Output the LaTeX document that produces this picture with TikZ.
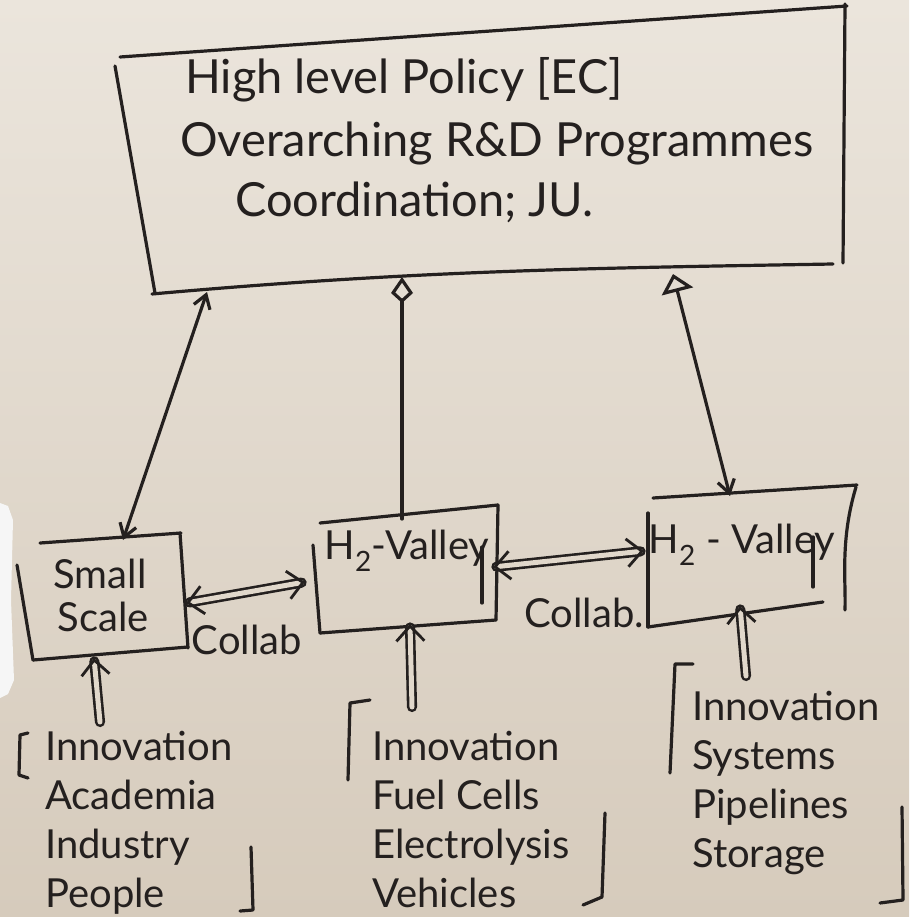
\documentclass[tikz,border=0pt]{standalone}
\usepackage{fontspec}
\setmainfont{Lato}
\usetikzlibrary{arrows.meta}
\definecolor{paper}{RGB}{225,216,203}
\definecolor{paperTop}{RGB}{235,229,220}
\definecolor{paperBot}{RGB}{214,203,188}
\definecolor{ink}{RGB}{36,32,31}
\definecolor{edgewhite}{RGB}{246,246,246}

\begin{document}
\begin{tikzpicture}[x=1pt,y=-1pt,
  pen/.style={draw=ink,line width=3.2pt,line cap=round,line join=round},
  hand/.style={text=ink,font=\fontsize{40}{49}\selectfont,inner sep=0pt},
  boxhand/.style={text=ink,font=\fontsize{40}{44}\selectfont,inner sep=0pt},
  bighand/.style={text=ink,font=\fontsize{47}{60}\selectfont,inner sep=0pt},
  listtext/.style={hand,align=left,anchor=north west},
  barb/.tip={Straight Barb[length=13pt,width=17pt]},
  kite/.tip={Kite[open,length=26pt,width=22pt,inset=10pt]},
  tri/.tip={Triangle[open,length=18pt,width=32pt]},
  twintip/.tip={Straight Barb[length=15pt,width=28pt,line width=2.8pt]},
  link/.style={pen},
  twin/.style={draw=ink,line width=2.6pt,double=paper,double distance=5pt,
               line cap=round}
]
\useasboundingbox (0,0) rectangle (909,917);

% paper
\shade[top color=paperTop,bottom color=paperBot] (0,0) rectangle (909,917);
\fill[edgewhite] (0,503) -- (8,506) -- (13,520) -- (11,600) -- (14,680) -- (8,694) -- (0,698) -- cycle;

% ---------- top box: policy level ----------
\coordinate (P1) at (120,57);
\coordinate (P2) at (847,6);
\coordinate (P3) at (843,263);
\coordinate (P4) at (152,294);
\draw[pen] (P1) -- (P2);
\draw[pen] (845,4) -- (P3);
\draw[pen] (833,264) .. controls (600,268) and (420,270) .. (P4);
\draw[pen] (115,66) -- (155,293);

\node[bighand,anchor=west] (pol1) at (185,80) {High level Policy [EC]};
\node[bighand,anchor=west] (pol2) at (180,143) {Overarching R\&D Programmes};
\node[bighand,anchor=west] (pol3) at (235,202) {Coordination; JU.};

\coordinate (polA) at (207,292);
\coordinate (polB) at (402,277);
\coordinate (polC) at (673,274);

% ---------- small scale box ----------
\draw[pen] (40,543) -- (181,533);
\draw[pen] (180,533) -- (188,648);
\draw[pen] (33,660) -- (188,647);
\draw[pen] (17,565) -- (33,660);
\node[boxhand,anchor=center] (small1) at (100,574) {Small};
\node[boxhand,anchor=center] (small2) at (103,617) {Scale};
\coordinate (smTop) at (123,540);
\coordinate (smRight) at (186,603);
\coordinate (smBottom) at (94,658);

% ---------- middle H2-Valley box ----------
\draw[pen] (320,523) -- (498,505);
\draw[pen] (498,505) -- (496,620);
\draw[pen] (320,633) -- (496,620);
\draw[pen] (313,545) -- (320,633);
\draw[pen] (482,547) -- (482,603);
\node[boxhand,anchor=center] (val1) at (407,551) {H\textsubscript{2}-Valley};
\coordinate (v1Top) at (402,519);
\coordinate (v1Left) at (305,582);
\coordinate (v1Right) at (493,567);
\coordinate (v1Bottom) at (410,624);

% ---------- right H2-Valley box ----------
\draw[pen] (653,498) -- (857,485);
\draw[pen] (856,487) .. controls (840,540) and (846,580) .. (845,610);
\draw[pen] (648,627) -- (823,602);
\draw[pen] (648,513) -- (648,627);
\draw[pen] (813,537) -- (813,587);
\node[boxhand,anchor=center] (val2) at (742,545) {H\textsubscript{2} - Valley};
\coordinate (v2Top) at (730,496);
\coordinate (v2Left) at (644,551);
\coordinate (v2Bottom) at (740,606);

% ---------- links to the policy level ----------
\draw[link,{barb}-{barb}] (polA) -- (smTop);
\draw[link,{kite}-] (polB) -- (v1Top);
\draw[link,{tri}-{barb}] (polC) -- (v2Top);

% ---------- collaboration links ----------
\draw[twin,{twintip}-{twintip}] (smRight) -- (v1Left);
\draw[twin,{twintip}-{twintip}] (v1Right) -- (v2Left);
\node[hand,anchor=center] (col1) at (247,640) {Collab};
\node[hand,anchor=center] (col2) at (584,613) {Collab.};

% ---------- innovation inputs ----------
\coordinate (in1) at (100,722);
\coordinate (in2) at (412,707);
\coordinate (in3) at (746,676);
\draw[twin,-{twintip}] (in1) -- (smBottom);
\draw[twin,-{twintip}] (in2) -- (v1Bottom);
\draw[twin,-{twintip}] (in3) -- (v2Bottom);

\node[listtext] (list1) at (45,731) {Innovation\\Academia\\Industry\\People};
\node[listtext] (list2) at (372,731) {Innovation\\Fuel Cells\\Electrolysis\\Vehicles};
\node[listtext] (list3) at (692,691) {Innovation\\Systems\\Pipelines\\Storage};

% brackets round the lists
\draw[pen] (28,733) -- (20,735) -- (19,775) -- (28,778);
\draw[pen] (251,847) -- (253,910) -- (240,911);
\draw[pen] (370,700) -- (350,703) -- (348,780);
\draw[pen] (605,813) -- (602,897) -- (583,905);
\draw[pen] (693,664) -- (675,664) -- (670,773);
\draw[pen] (902,807) -- (903,900) -- (880,903);
\end{tikzpicture}
\end{document}
